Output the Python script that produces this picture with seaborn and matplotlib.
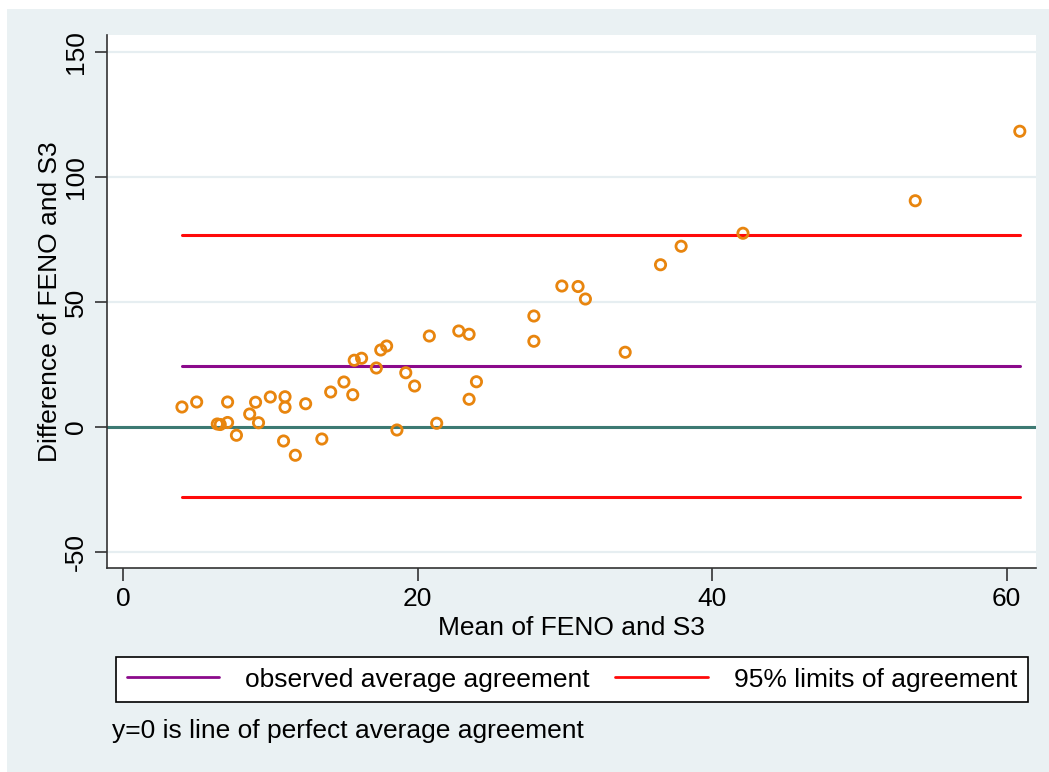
import numpy as np
import pandas as pd
import matplotlib
matplotlib.use("Agg")
import matplotlib.pyplot as plt
from matplotlib.patches import Rectangle
from matplotlib.lines import Line2D
import seaborn as sns

# Bland-Altman data
mean_vals = [4.0, 5.0, 6.4, 6.6, 7.1, 7.1, 7.7, 8.6, 9.0, 9.2,
             10.0, 10.9, 11.0, 11.0, 11.7, 12.4, 13.5, 14.1, 15.0, 15.6,
             15.7, 16.2, 17.2, 17.5, 17.9, 18.6, 19.2, 19.8, 20.8, 21.3,
             22.8, 23.5, 23.5, 24.0, 27.9, 27.9, 29.8, 30.9, 31.4, 34.1,
             36.5, 37.9, 42.1, 53.8, 60.9]
diff_vals = [8.0, 10.0, 1.2, 1.0, 10.0, 1.8, -3.3, 5.2, 9.9, 1.7,
             12.0, -5.6, 12.1, 7.9, -11.3, 9.3, -4.8, 14.0, 18.0, 12.9,
             26.7, 27.5, 23.6, 30.8, 32.4, -1.2, 21.7, 16.4, 36.4, 1.5,
             38.4, 37.1, 11.1, 18.1, 44.4, 34.3, 56.4, 56.2, 51.2, 29.9,
             64.9, 72.3, 77.5, 90.5, 118.3]
mean_diff = 24.5
upper_loa = 76.9
lower_loa = -27.8

yticks = [-50, 0, 50, 100, 150]
xticks = [0, 20, 40, 60]

df = pd.DataFrame({"mean": mean_vals, "diff": diff_vals})

sns.set_style("white")
plt.rcParams["font.family"] = ["Liberation Sans", "DejaVu Sans"]
plt.rcParams["axes.unicode_minus"] = False
plt.rcParams["text.color"] = "black"
plt.rcParams["axes.labelcolor"] = "black"
plt.rcParams["xtick.color"] = "black"
plt.rcParams["ytick.color"] = "black"

fs = 19
bg = "#EAF1F3"
fig = plt.figure(figsize=(10.49, 7.72), dpi=100, facecolor="white")
fig.patches.append(Rectangle((7 / 1049, 0), 1, 1 - 9 / 772, transform=fig.transFigure,
                             facecolor=bg, edgecolor="none", zorder=-10))

ax = fig.add_axes([107 / 1049, 1 - 568 / 772, (1036 - 107) / 1049, (568 - 35) / 772])
ax.set_facecolor("white")

ax.set_xlim(-1.09, 62.0)
ax.set_ylim(-56.4, 156.8)

for t in yticks:
    ax.axhline(t, color="#E6EEF1", lw=1.6, zorder=0)

ax.axhline(0, color="#3D7A73", lw=2.2, zorder=1)
xmin, xmax = min(mean_vals), max(mean_vals)
ax.plot([xmin, xmax], [mean_diff, mean_diff], color="#8B0A8B", lw=2.2, zorder=2)
ax.plot([xmin, xmax], [upper_loa, upper_loa], color="#FF0A0A", lw=2.2, zorder=2)
ax.plot([xmin, xmax], [lower_loa, lower_loa], color="#FF0A0A", lw=2.2, zorder=2)

sns.scatterplot(data=df, x="mean", y="diff", ax=ax, marker="o", s=55,
                facecolor="none", edgecolor="#E8850E", linewidth=2.0, zorder=3)
ax.collections[-1].set_facecolor("none")
ax.collections[-1].set_edgecolor("#E8850E")

ax.set_xticks(xticks)
ax.set_yticks(yticks)
ax.tick_params(axis="both", direction="out", length=9, width=1.2, color="#333333",
               labelsize=fs, pad=5, bottom=True, left=True, labelcolor="black")
plt.setp(ax.get_yticklabels(), rotation=90, va="center")
for s in ["top", "right"]:
    ax.spines[s].set_visible(False)
for s in ["left", "bottom"]:
    ax.spines[s].set_color("#333333")
    ax.spines[s].set_linewidth(1.2)

ax.set_xlabel("Mean of FENO and S3", fontsize=fs, labelpad=3)
ax.set_ylabel("Difference of FENO and S3", fontsize=fs, labelpad=1)

handles = [Line2D([], [], color="#8B0A8B", lw=2),
           Line2D([], [], color="#FF0A0A", lw=2)]
labels = ["observed average agreement", "95% limits of agreement"]
leg = fig.legend(handles, labels, loc="center", ncol=2, mode="expand",
                 bbox_to_anchor=(116 / 1049, 1 - 704 / 772, (1028 - 116) / 1049, 49 / 772),
                 fontsize=fs, frameon=True, fancybox=False, edgecolor="black",
                 handlelength=3.5, handletextpad=1.0, borderaxespad=0, borderpad=0.4)
leg.get_frame().set_linewidth(1.2)
leg.get_frame().set_facecolor("white")
leg.get_frame().set_alpha(1)

fig.text(112 / 1049, 1 - 731 / 772, "y=0 is line of perfect average agreement",
         fontsize=fs, va="center", ha="left")

fig.savefig("out.png", dpi=100, facecolor=fig.get_facecolor())
